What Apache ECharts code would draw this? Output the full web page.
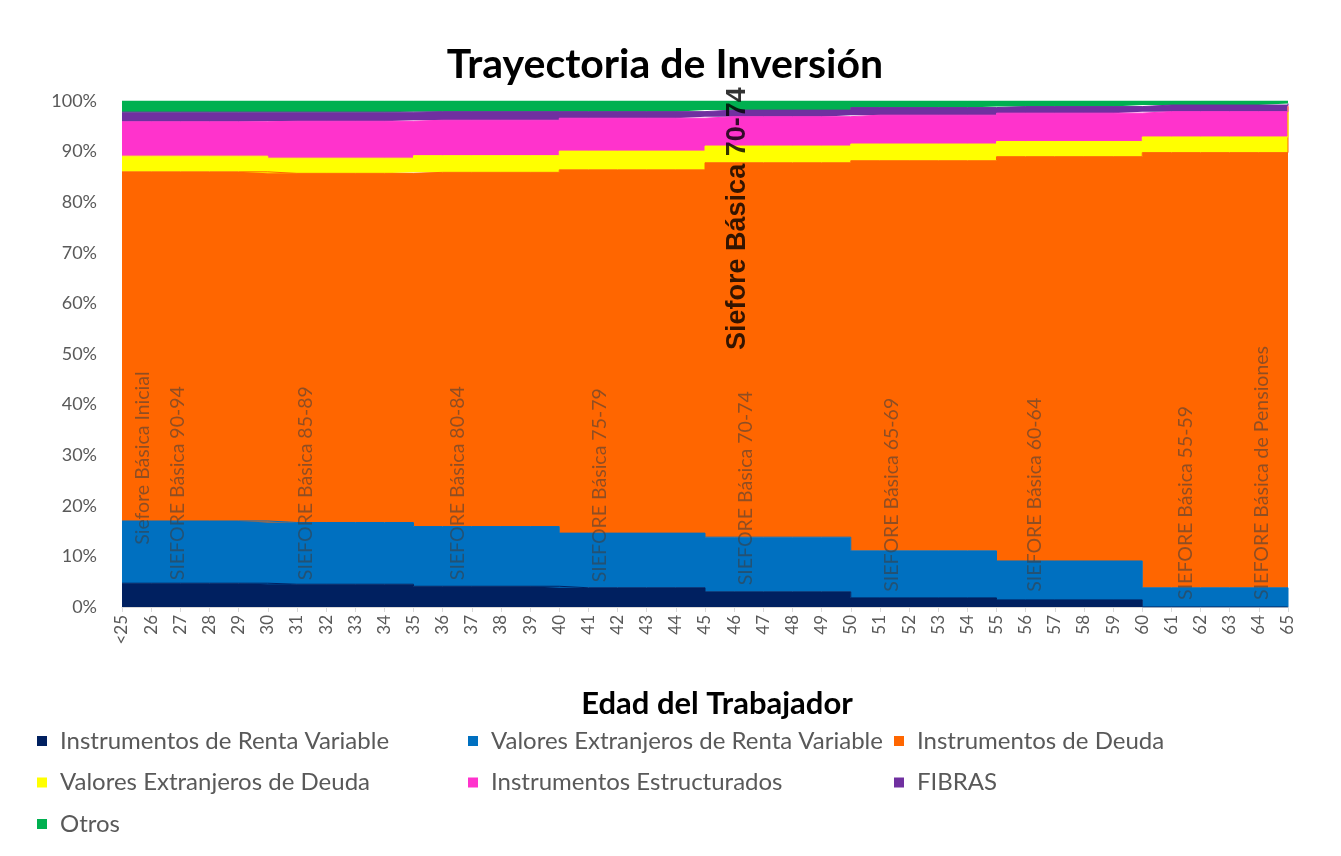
<!DOCTYPE html>
<html>
<head>
<meta charset="utf-8">
<script src="https://cdn.jsdelivr.net/npm/echarts@6/dist/echarts.min.js"></script>
<style>
html,body{margin:0;padding:0;background:#fff;}
#chart{width:1341px;height:856px;}
</style>
</head>
<body>
<div id="chart"></div>
<script>
// Categories (worker age)
const ages = ['<25','26','27','28','29','30','31','32','33','34','35','36','37','38','39','40','41','42','43','44','45','46','47','48','49','50','51','52','53','54','55','56','57','58','59','60','61','62','63','64','65'];

// Series values (% of portfolio), one per age
const rentaVariable = [4.7,4.7,4.7,4.7,4.7, 4.5,4.5,4.5,4.5,4.5, 4.1,4.1,4.1,4.1,4.1, 3.8,3.8,3.8,3.8,3.8, 3.0,3.0,3.0,3.0,3.0, 1.8,1.8,1.8,1.8,1.8, 1.4,1.4,1.4,1.4,1.4, 0,0,0,0,0, 0];
const extRentaVariable = [12.3,12.3,12.3,12.3,12.3, 12.2,12.2,12.2,12.2,12.2, 11.8,11.8,11.8,11.8,11.8, 10.8,10.8,10.8,10.8,10.8, 10.8,10.8,10.8,10.8,10.8, 9.3,9.3,9.3,9.3,9.3, 7.7,7.7,7.7,7.7,7.7, 3.8,3.8,3.8,3.8,3.8, 0];
const deuda = [69.0,69.0,69.0,69.0,69.0, 69.0,69.0,69.0,69.0,69.0, 70.0,70.0,70.0,70.0,70.0, 71.8,71.8,71.8,71.8,71.8, 74.0,74.0,74.0,74.0,74.0, 77.1,77.1,77.1,77.1,77.1, 79.9,79.9,79.9,79.9,79.9, 86.0,86.0,86.0,86.0,86.0, 98.8];
const extDeuda = [3.1,3.1,3.1,3.1,3.1, 3.0,3.0,3.0,3.0,3.0, 3.3,3.3,3.3,3.3,3.3, 3.7,3.7,3.7,3.7,3.7, 3.3,3.3,3.3,3.3,3.3, 3.3,3.3,3.3,3.3,3.3, 3.0,3.0,3.0,3.0,3.0, 3.1,3.1,3.1,3.1,3.1, 0.2];
const estructurados = [6.8,6.8,6.8,6.8,6.8, 7.3,7.3,7.3,7.3,7.3, 7.0,7.0,7.0,7.0,7.0, 6.5,6.5,6.5,6.5,6.5, 5.8,5.8,5.8,5.8,5.8, 5.7,5.7,5.7,5.7,5.7, 5.6,5.6,5.6,5.6,5.6, 5.0,5.0,5.0,5.0,5.0, 0.2];
const fibras = [1.9,1.9,1.9,1.9,1.9, 1.8,1.8,1.8,1.8,1.8, 1.7,1.7,1.7,1.7,1.7, 1.3,1.3,1.3,1.3,1.3, 1.3,1.3,1.3,1.3,1.3, 1.5,1.5,1.5,1.5,1.5, 1.3,1.3,1.3,1.3,1.3, 1.3,1.3,1.3,1.3,1.3, 0.3];
const otros = [2.2,2.2,2.2,2.2,2.2, 2.2,2.2,2.2,2.2,2.2, 2.1,2.1,2.1,2.1,2.1, 2.1,2.1,2.1,2.1,2.1, 1.8,1.8,1.8,1.8,1.8, 1.3,1.3,1.3,1.3,1.3, 1.1,1.1,1.1,1.1,1.1, 0.8,0.8,0.8,0.8,0.8, 0.5];

const seriesNames = ['Instrumentos de Renta Variable','Valores Extranjeros de Renta Variable','Instrumentos de Deuda','Valores Extranjeros de Deuda','Instrumentos Estructurados','FIBRAS','Otros'];
const seriesColors = ['#002060','#0070C0','#FF6600','#FFFF00','#FF33CC','#7030A0','#00B050'];
const seriesData = [rentaVariable, extRentaVariable, deuda, extDeuda, estructurados, fibras, otros];

// Y-axis ticks
const yMin = 0, yMax = 100, yStep = 10;

// Siefore annotation labels (age position as index along the axis, % height where text starts)
const noteTexts = ['Siefore Básica Inicial','SIEFORE Básica 90-94','SIEFORE Básica 85-89','SIEFORE Básica 80-84','SIEFORE Básica 75-79','SIEFORE Básica 70-74','SIEFORE Básica 65-69','SIEFORE Básica 60-64','SIEFORE Básica 55-59','SIEFORE Básica de Pensiones'];
const notePos = [0.7, 1.9, 6.3, 11.5, 16.4, 21.4, 26.4, 31.3, 36.5, 39.1];
const noteStart = [12.3, 5.3, 5.3, 5.3, 4.9, 4.3, 3.0, 3.0, 1.4, 1.4];
const highlightText = 'Siefore Básica 70-74';
const highlightPos = 21.1;
const highlightStart = 50.8;

const chart = echarts.init(document.getElementById('chart'), null, {renderer: 'canvas'});

const lineSeries = seriesNames.map((n, i) => ({
  name: n,
  type: 'line',
  stack: 'total',
  step: 'end',
  symbol: 'none',
  data: seriesData[i],
  itemStyle: {color: seriesColors[i]},
  lineStyle: {width: 1, color: seriesColors[i]},
  areaStyle: {color: seriesColors[i], opacity: 1},
  emphasis: {disabled: true},
  z: 2
}));

const noteSeries = {
  name: 'notes',
  type: 'scatter',
  xAxisIndex: 1,
  symbolSize: 0,
  silent: true,
  z: 5,
  data: noteTexts.map((t, i) => ({name: t, value: [notePos[i], noteStart[i]]})),
  label: {
    show: true,
    formatter: p => p.name,
    rotate: 90,
    position: 'inside',
    align: 'left',
    verticalAlign: 'middle',
    color: 'rgba(60,60,60,0.72)',
    fontFamily: 'Lato',
    fontSize: 19.5
  }
};

const highlightSeries = {
  name: 'highlight',
  type: 'scatter',
  xAxisIndex: 1,
  symbolSize: 0,
  silent: true,
  z: 6,
  data: [{name: highlightText, value: [highlightPos, highlightStart]}],
  label: {
    show: true,
    formatter: p => p.name,
    rotate: 90,
    position: 'inside',
    align: 'left',
    verticalAlign: 'middle',
    color: '#000',
    fontFamily: 'Liberation Sans',
    fontWeight: 'bold',
    fontSize: 27
  }
};

const legendText = {color: '#595959', fontFamily: 'Lato', fontSize: 24, lineHeight: 26, padding: [0,0,0,8]};
function mkLegend(names, left) {
  return {
    data: names,
    orient: 'vertical',
    left: left,
    top: 728,
    padding: 0,
    itemGap: 15.5,
    itemWidth: 10,
    itemHeight: 10,
    icon: 'rect',
    selectedMode: false,
    textStyle: legendText
  };
}

chart.setOption({
  backgroundColor: '#fff',
  animation: false,
  title: [
    {text: 'Trayectoria de Inversión', left: 660, textAlign: 'center', top: 39,
     textStyle: {fontFamily: 'Lato', fontWeight: 'bold', fontSize: 41, color: '#000'}},
    {text: 'Edad del Trabajador', left: 712, textAlign: 'center', top: 683,
     textStyle: {fontFamily: 'Lato', fontWeight: 'bold', fontSize: 31, color: '#000'}}
  ],
  legend: [
    mkLegend([seriesNames[0], seriesNames[3], seriesNames[6]], 37),
    mkLegend([seriesNames[1], seriesNames[4]], 468),
    mkLegend([seriesNames[2], seriesNames[5]], 894)
  ],
  grid: {left: 122, right: 53, top: 101, bottom: 249, containLabel: false},
  xAxis: [
    {
      type: 'category',
      data: ages,
      boundaryGap: false,
      axisLine: {show: true, lineStyle: {color: '#d9d9d9'}},
      axisTick: {show: true, interval: 0, length: 5, lineStyle: {color: '#d9d9d9'}},
      axisLabel: {interval: 0, rotate: 90, color: '#595959', fontFamily: 'Lato', fontSize: 17, margin: 8},
      splitLine: {show: false}
    },
    {
      type: 'value', min: 0, max: ages.length - 1, show: false
    }
  ],
  yAxis: {
    type: 'value',
    min: yMin, max: yMax, interval: yStep,
    axisLine: {show: false},
    axisTick: {show: false},
    splitLine: {show: false},
    axisLabel: {formatter: '{value}%', color: '#595959', fontFamily: 'Lato', fontSize: 18, margin: 25}
  },
  series: lineSeries.concat([noteSeries, highlightSeries])
});
</script>
</body>
</html>
